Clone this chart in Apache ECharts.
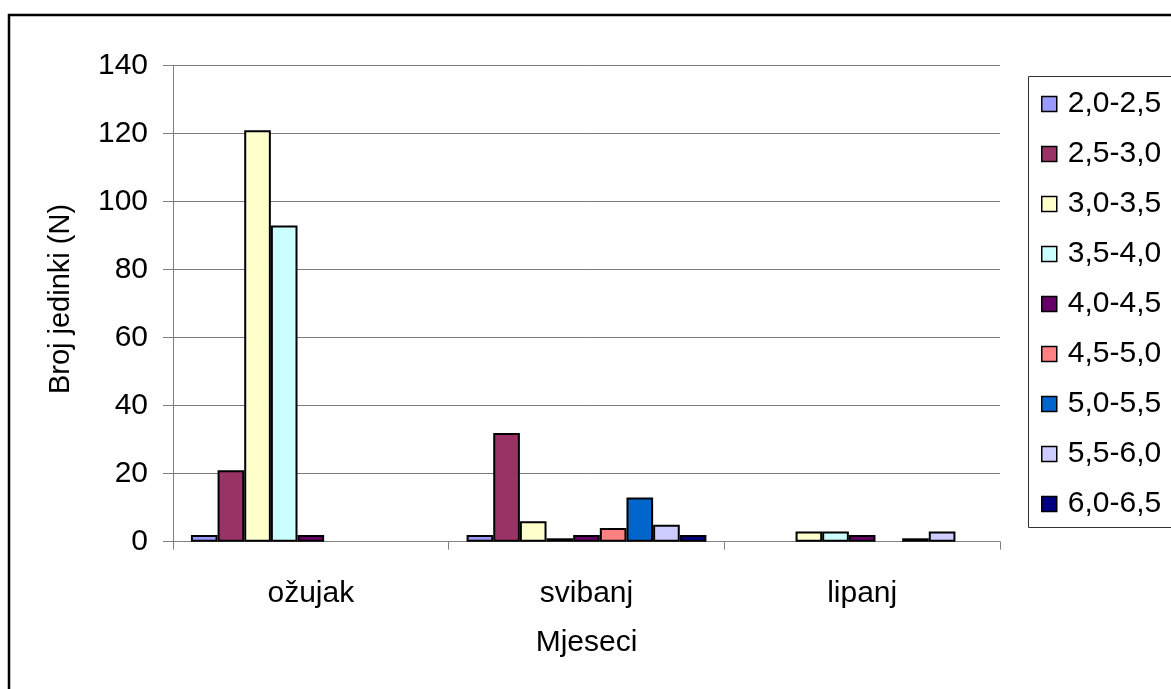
<!DOCTYPE html>
<html>
<head>
<meta charset="utf-8">
<title>Broj jedinki po mjesecima</title>
<script src="https://cdn.jsdelivr.net/npm/echarts@6/dist/echarts.min.js"></script>
<style>
  html, body { margin: 0; padding: 0; background: #fff; }
  #chart { width: 1171px; height: 689px; }
</style>
</head>
<body>
<div id="chart"></div>
<script>
// Months on the category axis
const months = ['ožujak', 'svibanj', 'lipanj'];

// Size classes (one series each) and their fill colours
const classes = ['2,0-2,5', '2,5-3,0', '3,0-3,5', '3,5-4,0', '4,0-4,5', '4,5-5,0', '5,0-5,5', '5,5-6,0', '6,0-6,5'];
const classColors = ['#9999FF', '#993366', '#FFFFCC', '#CCFFFF', '#660066', '#FF8080', '#0066CC', '#CCCCFF', '#000080'];

// Number of individuals per class, in month order (ožujak, svibanj, lipanj)
const c20_25 = [2, 2, 0];
const c25_30 = [21, 32, 0];
const c30_35 = [121, 6, 3];
const c35_40 = [93, 1, 3];
const c40_45 = [2, 2, 2];
const c45_50 = [0, 4, 0];
const c50_55 = [0, 13, 1];
const c55_60 = [0, 5, 3];
const c60_65 = [0, 2, 0];
const counts = [c20_25, c25_30, c30_35, c35_40, c40_45, c45_50, c50_55, c55_60, c60_65];

// Y axis ticks
const yMin = 0, yMax = 140, yStep = 20;

const FONT = '"Liberation Sans", Arial, sans-serif';
const FS = 30;

const chart = echarts.init(document.getElementById('chart'), null, { renderer: 'canvas' });

// Empty classes are left out rather than drawn as a flat outlined bar
const series = classes.map((name, i) => ({
  name: name,
  type: 'bar',
  data: counts[i].map(v => (v === 0 ? null : v)),
  barGap: '0%',
  barCategoryGap: '13%',
  itemStyle: { color: classColors[i], borderColor: '#000', borderWidth: 2 },
  emphasis: { disabled: true },
  animation: false
}));

const plot = { left: 173, top: 65.7, right: 1000, bottom: 541.7 };

chart.setOption({
  backgroundColor: '#ffffff',
  animation: false,
  textStyle: { fontFamily: FONT },
  grid: {
    left: plot.left,
    top: plot.top,
    width: plot.right - plot.left,
    height: plot.bottom - plot.top,
    containLabel: false
  },
  xAxis: {
    type: 'category',
    data: months,
    axisLine: { show: true, lineStyle: { color: '#808080', width: 1 } },
    axisTick: { show: true, length: 8, lineStyle: { color: '#808080' } },
    axisLabel: { color: '#000', fontSize: FS, fontFamily: FONT, margin: 37 },
    splitLine: { show: false }
  },
  yAxis: {
    type: 'value',
    min: yMin,
    max: yMax,
    interval: yStep,
    axisLine: { show: true, lineStyle: { color: '#808080', width: 1 } },
    axisTick: { show: true, length: 10, lineStyle: { color: '#808080' } },
    axisLabel: { color: '#000', fontSize: FS, fontFamily: FONT, margin: 25 },
    splitLine: { show: true, lineStyle: { color: '#7a7a7a', width: 1 } }
  },
  legend: {
    orient: 'vertical',
    left: 1041,
    top: 89,
    padding: 0,
    itemWidth: 15,
    itemHeight: 15,
    itemGap: 20,
    icon: 'rect',
    data: classes,
    selectedMode: false,
    itemStyle: { borderColor: '#000', borderWidth: 1.5 },
    textStyle: { color: '#000', fontSize: FS, fontFamily: FONT, lineHeight: 30, padding: [0, 0, 0, 6] }
  },
  graphic: [
    // outer chart frame
    {
      type: 'rect', z: 0,
      shape: { x: 9, y: 15, width: 1200, height: 720 },
      style: { fill: null, stroke: '#000', lineWidth: 2.5 }
    },
    // legend frame
    {
      type: 'rect', z: 0,
      shape: { x: 1028.5, y: 76.5, width: 200, height: 451 },
      style: { fill: '#fff', stroke: '#333', lineWidth: 1 }
    },
    // axis titles
    {
      type: 'text', z: 10,
      x: 61, y: 299,
      rotation: Math.PI / 2,
      style: {
        text: 'Broj jedinki (N)',
        font: '29px ' + FONT,
        fill: '#000',
        align: 'center',
        verticalAlign: 'middle'
      }
    },
    {
      type: 'text', z: 10,
      x: (plot.left + plot.right) / 2, y: 643,
      style: {
        text: 'Mjeseci',
        font: FS + 'px ' + FONT,
        fill: '#000',
        align: 'center',
        verticalAlign: 'middle'
      }
    }
  ],
  series: series
});
</script>
</body>
</html>
